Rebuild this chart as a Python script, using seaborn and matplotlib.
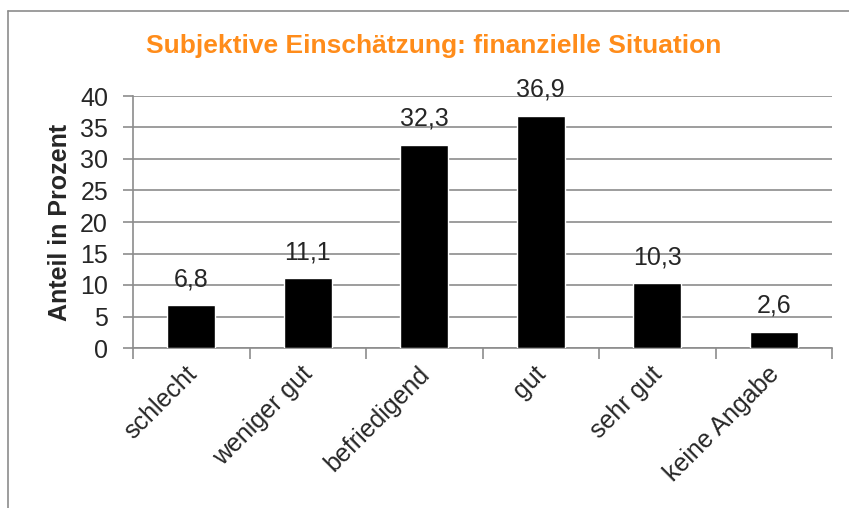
import matplotlib
matplotlib.use("Agg")
import matplotlib.pyplot as plt
import matplotlib.transforms as mtransforms
import seaborn as sns
import pandas as pd
from matplotlib.lines import Line2D

# Daten
kategorien = ["schlecht", "weniger gut", "befriedigend", "gut", "sehr gut", "keine Angabe"]
anteile = [6.8, 11.1, 32.3, 36.9, 10.3, 2.6]
y_ticks = [0, 5, 10, 15, 20, 25, 30, 35, 40]

df = pd.DataFrame({"Kategorie": kategorien, "Anteil": anteile})

sns.set_style("white")
plt.rcParams["font.family"] = ["Liberation Sans", "DejaVu Sans"]

fig = plt.figure(figsize=(8.49, 5.08), dpi=100)
ax = fig.add_axes([133 / 849, 1 - 348 / 508, (832 - 133) / 849, (348 - 96) / 508])

sns.barplot(data=df, x="Kategorie", y="Anteil", color="black", width=0.41,
            saturation=1, ax=ax, zorder=3)

# Achsen
ax.set_ylim(0, 40)
ax.set_xlim(-0.5, len(kategorien) - 0.5)
ax.set_yticks(y_ticks)
ax.yaxis.grid(True, color="#8c8c8c", linewidth=1.2, zorder=0)
ax.tick_params(axis="y", labelsize=18, length=7, color="#8c8c8c", width=1.2, pad=11, left=True)
ax.tick_params(axis="x", which="major", length=0, labelsize=18, pad=10)
ax.set_xticks([i - 0.5 for i in range(len(kategorien) + 1)], minor=True)
ax.tick_params(axis="x", which="minor", length=8, color="#8c8c8c", width=1.2, bottom=True)
# Beschriftungen leicht nach links versetzen
versatz = mtransforms.ScaledTranslation(-7 / 100, 0, fig.dpi_scale_trans)
for lbl in ax.get_xticklabels():
    lbl.set_rotation(45)
    lbl.set_ha("right")
    lbl.set_rotation_mode("anchor")
    lbl.set_transform(lbl.get_transform() + versatz)

for side in ["top", "right"]:
    ax.spines[side].set_visible(False)
for side in ["left", "bottom"]:
    ax.spines[side].set_color("#8c8c8c")
    ax.spines[side].set_linewidth(1.2)

ax.set_xlabel("")
ax.set_ylabel("Anteil in Prozent", fontsize=18, fontweight="bold", labelpad=6)

# Werte über den Balken
ax.bar_label(ax.containers[0], labels=[f"{v:.1f}".replace(".", ",") for v in anteile],
             fontsize=18, padding=10)

# Titel
fig.text(434 / 849, 1 - 46 / 508, "Subjektive Einschätzung: finanzielle Situation",
         ha="center", va="center", fontsize=19, fontweight="bold", color="#FF8C1A")

# Rahmen
fig.add_artist(Line2D([8 / 849, 1], [1 - 11 / 508, 1 - 11 / 508], color="#8c8c8c", linewidth=1.2))
fig.add_artist(Line2D([8 / 849, 8 / 849], [0, 1 - 11 / 508], color="#8c8c8c", linewidth=1.2))

fig.savefig("out.png", dpi=100)
